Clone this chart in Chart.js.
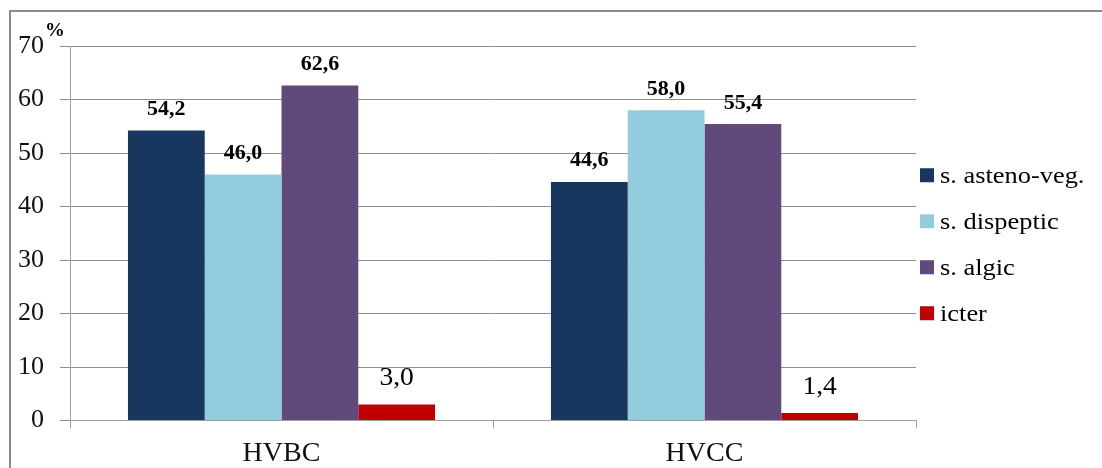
<!DOCTYPE html>
<html>
<head>
<meta charset="utf-8">
<script src="https://cdn.jsdelivr.net/npm/chart.js@4.4.1/dist/chart.umd.min.js"></script>
<style>
  html, body { margin: 0; padding: 0; background: #ffffff; }
  #wrap { position: relative; width: 1102px; height: 468px; }
</style>
</head>
<body>
<div id="wrap"><canvas id="chart" width="1102" height="468"></canvas></div>
<script>
// Groups and series
const categories = ['HVBC', 'HVCC'];
const seriesNames = ['s. asteno-veg.', 's. dispeptic', 's. algic', 'icter'];
const asthenoVeg = [54.2, 44.6];
const dyspeptic = [46.0, 58.0];
const algic = [62.6, 55.4];
const icter = [3.0, 1.4];
const yTicks = [0, 10, 20, 30, 40, 50, 60, 70];

const seriesColors = ['#17375E', '#93CDDD', '#604A7B', '#C00000'];
const SERIF = '"Liberation Serif", "Times New Roman", serif';

const datasets = [asthenoVeg, dyspeptic, algic, icter].map((values, i) => ({
  label: seriesNames[i],
  data: values,
  backgroundColor: seriesColors[i],
  borderWidth: 0,
  categoryPercentage: 0.726,
  barPercentage: 1.0
}));

// Outer frame of the figure
const framePlugin = {
  id: 'frame',
  beforeDraw(chart) {
    const ctx = chart.ctx;
    ctx.save();
    ctx.strokeStyle = '#8c8c8c';
    ctx.lineWidth = 2;
    ctx.beginPath();
    ctx.moveTo(10, chart.height + 2);
    ctx.lineTo(10, 11);
    ctx.lineTo(chart.width + 2, 11);
    ctx.stroke();
    ctx.restore();
  }
};

// Value labels above each bar, the unit sign and the legend column
const labelPlugin = {
  id: 'valueLabels',
  afterDatasetsDraw(chart) {
    const ctx = chart.ctx;
    const area = chart.chartArea;
    ctx.save();
    ctx.fillStyle = '#000000';
    ctx.textAlign = 'center';
    ctx.textBaseline = 'alphabetic';
    chart.data.datasets.forEach((ds, di) => {
      const meta = chart.getDatasetMeta(di);
      const small = di === 3;
      meta.data.forEach((bar, i) => {
        const text = ds.data[i].toFixed(1).replace('.', ',');
        ctx.save();
        ctx.translate(bar.x, bar.y - (small ? 19.5 : 15.5));
        ctx.scale(small ? 1.06 : 1.1, 1);
        ctx.font = small ? ('26px ' + SERIF) : ('bold 20px ' + SERIF);
        ctx.fillText(text, 0, 0);
        ctx.restore();
      });
    });

    // "%" next to the top tick
    const yScale = chart.scales.y;
    ctx.save();
    ctx.translate(area.left - 15, yScale.getPixelForValue(70) - 10);
    ctx.scale(1.1, 1);
    ctx.font = 'bold 18px ' + SERIF;
    ctx.fillText('%', 0, 0);
    ctx.restore();

    // Legend
    const rowGap = 46;
    const midY = (area.top + area.bottom) / 2 + 11;
    const firstY = midY - rowGap * (seriesNames.length - 1) / 2;
    const boxX = area.right + 4;
    ctx.textAlign = 'left';
    ctx.textBaseline = 'middle';
    chart.data.datasets.forEach((ds, di) => {
      const cy = firstY + di * rowGap;
      ctx.fillStyle = ds.backgroundColor;
      ctx.fillRect(boxX, cy - 7, 14, 14);
      ctx.fillStyle = '#000000';
      ctx.save();
      ctx.translate(boxX + 20, cy + 1);
      ctx.scale(1.1, 1);
      ctx.font = '24px ' + SERIF;
      ctx.fillText(ds.label, 0, 0);
      ctx.restore();
    });
    ctx.restore();
  }
};

new Chart(document.getElementById('chart'), {
  type: 'bar',
  data: { labels: categories, datasets },
  options: {
    responsive: false,
    animation: false,
    devicePixelRatio: 1,
    layout: { padding: { top: 46, right: 186, bottom: 0, left: 0 } },
    plugins: {
      legend: { display: false },
      tooltip: { enabled: false }
    },
    scales: {
      x: {
        offset: true,
        grid: {
          display: true,
          offset: true,
          drawOnChartArea: false,
          drawTicks: true,
          tickLength: 8,
          color: '#a0a0a0'
        },
        border: { display: true, color: '#a0a0a0', width: 1 },
        ticks: {
          color: '#111111',
          padding: 8,
          font: { family: SERIF, size: 28 }
        },
        afterFit(scale) { scale.height = 47.5; }
      },
      y: {
        min: 0,
        max: 70,
        afterBuildTicks(scale) { scale.ticks = yTicks.map(v => ({ value: v })); },
        grid: {
          color: '#8f8f8f',
          tickLength: 10,
          drawTicks: true
        },
        border: { display: true, color: '#a0a0a0', width: 1 },
        ticks: {
          color: '#111111',
          padding: 16,
          font: { family: SERIF, size: 26 }
        },
        afterFit(scale) { scale.width = 70; }
      }
    }
  },
  plugins: [framePlugin, labelPlugin]
});
</script>
</body>
</html>
